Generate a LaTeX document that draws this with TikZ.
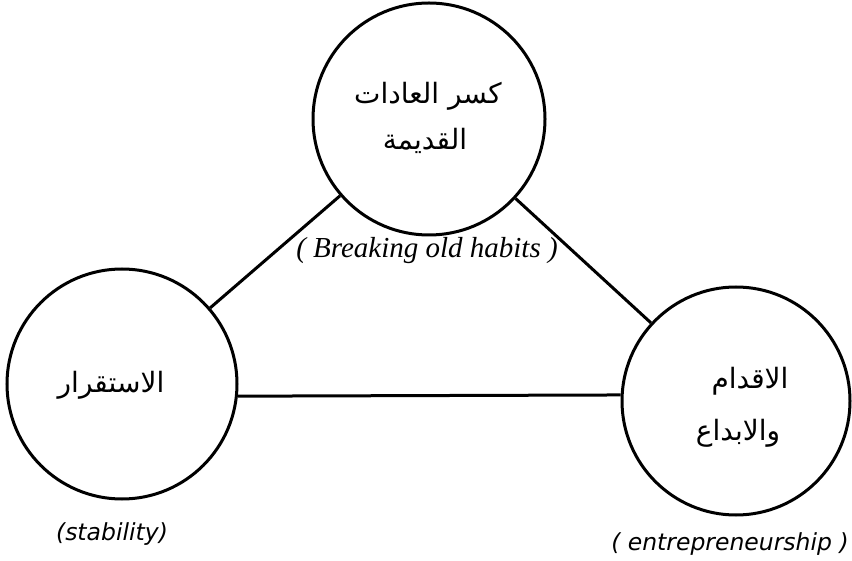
\documentclass[tikz,border=0pt]{standalone}
\usepackage{fontspec}
\TeXXeTstate=1
\newfontfamily\arfont[Script=Arabic]{DejaVu Sans}
\newfontfamily\enserif{Liberation Serif}
\newfontfamily\ensans{DejaVu Sans}
\begin{document}
\begin{tikzpicture}[x=1pt,y=-1pt,
  circ/.style={circle,draw=black,line width=3pt,inner sep=0pt},
  artext/.style={font=\arfont\fontsize{28}{34}\selectfont,inner sep=0pt,anchor=base},
  serlabel/.style={inner sep=0pt,anchor=base,font=\enserif\itshape\fontsize{29}{32}\selectfont},
  sanslabel/.style={inner sep=0pt,anchor=base,font=\ensans\itshape\fontsize{23.5}{26}\selectfont},
  conn/.style={line width=3pt,draw=black}]
\useasboundingbox (0,0) rectangle (852,561);
\node[circ,minimum size=232pt] (T) at (429,119) {};
\node[circ,minimum size=230pt] (L) at (122,384) {};
\node[circ,minimum size=228pt] (R) at (736,401) {};
\node[artext] (tT1) at (428,104) {\beginR كسر العادات\endR};
\node[artext] (tT2) at (425,150) {\beginR القديمة\endR};
\node[artext] (tL) at (111,393) {\beginR الاستقرار\endR};
\node[artext] (tR1) at (750,389) {\beginR الاقدام\endR};
\node[artext] (tR2) at (738,441) {\beginR والابداع\endR};
\node[serlabel] (eT) at (427,258) {( Breaking old habits )};
\node[sanslabel] (eL) at (112,540) {(stability)};
\node[sanslabel] (eR) at (730,550) {( entrepreneurship )};
\draw[conn] (L) -- (T);
\draw[conn] (T) -- (R);
\draw[conn] (L.-6) -- (R.177);
\end{tikzpicture}
\end{document}
